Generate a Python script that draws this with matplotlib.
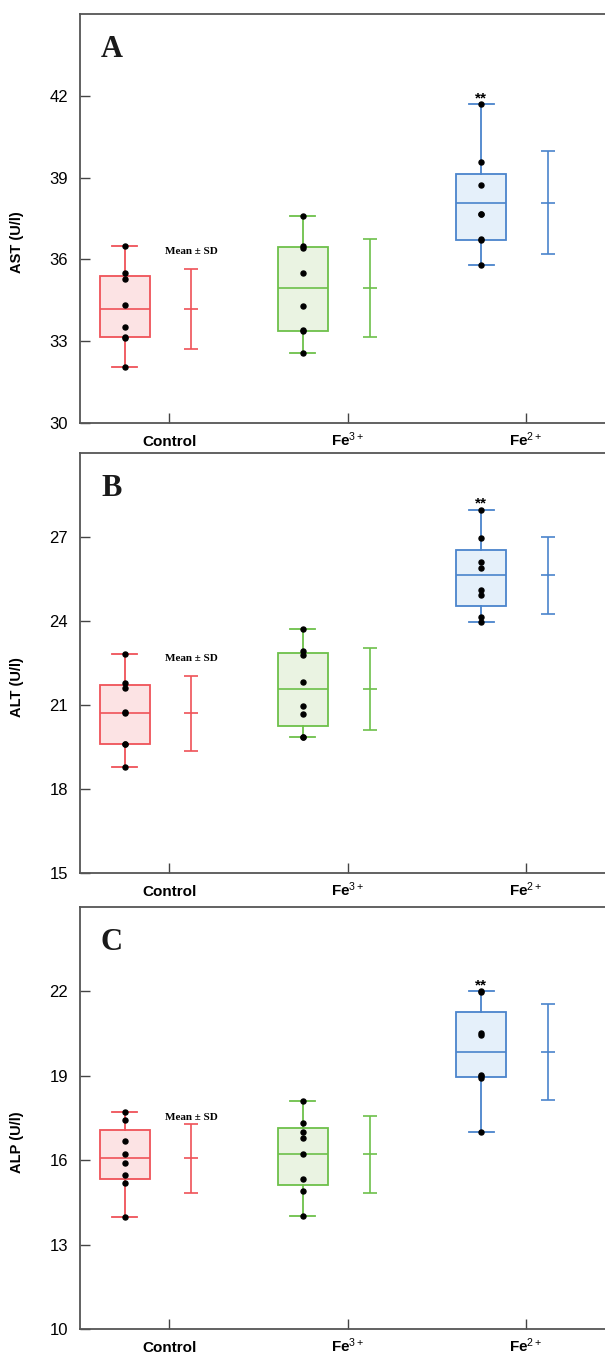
import numpy as np
import matplotlib
matplotlib.use('Agg')
from matplotlib import pyplot as plt
from matplotlib import cbook

plt.rcParams['font.family'] = ['Liberation Sans', 'DejaVu Sans']
plt.rcParams['mathtext.fontset'] = 'custom'
plt.rcParams['mathtext.rm'] = 'Liberation Sans'
plt.rcParams['mathtext.it'] = 'Liberation Sans:italic'
plt.rcParams['mathtext.bf'] = 'Liberation Sans:bold'

# groups and panels
groups = ['Control', 'Fe$^{3+}$', 'Fe$^{2+}$']
panel_letters = ['A', 'B', 'C']
ylabels = ['AST (U/l)', 'ALT (U/l)', 'ALP (U/l)']
ylims = [(30, 45), (15, 30), (10, 25)]
yticks = [[30, 33, 36, 39, 42], [15, 18, 21, 24, 27], [10, 13, 16, 19, 22]]

# individual values (n = 8 per group)
ast_control = [36.48, 35.50, 35.29, 34.33, 33.53, 33.16, 33.12, 32.07]
ast_fe3 = [37.59, 36.48, 36.42, 35.50, 34.30, 33.40, 33.36, 32.55]
ast_fe2 = [41.69, 39.58, 38.72, 37.68, 37.66, 36.75, 36.70, 35.79]

alt_control = [22.83, 21.78, 21.62, 20.74, 20.72, 19.60, 19.60, 18.80]
alt_fe3 = [23.73, 22.92, 22.77, 21.83, 20.95, 20.67, 19.86, 19.86]
alt_fe2 = [27.98, 26.96, 26.11, 25.88, 25.11, 24.93, 24.13, 23.98]

alp_control = [17.71, 17.43, 16.69, 16.21, 15.89, 15.48, 15.19, 13.98]
alp_fe3 = [18.09, 17.31, 17.01, 16.79, 16.21, 15.33, 14.91, 14.03]
alp_fe2 = [22.00, 21.98, 20.52, 20.44, 19.02, 19.00, 18.93, 17.00]

panels = [
    [ast_control, ast_fe3, ast_fe2],
    [alt_control, alt_fe3, alt_fe2],
    [alp_control, alp_fe3, alp_fe2],
]

edge_colors = ['#EF5258', '#6DC04A', '#4A84CC']
face_colors = ['#FCE3E4', '#EAF3E2', '#E5F0FA']

# axes placement in pixels (top, bottom) of a 605 x 1354 figure
W, H = 605, 1354
frames = [(14, 423), (453, 873), (907, 1329)]
left_px, width_px = 80, 535

fig = plt.figure(figsize=(W / 100, H / 100), dpi=100)

for p in range(3):
    top, bot = frames[p]
    ax = fig.add_axes([left_px / W, (H - bot) / H, width_px / W, (bot - top) / H])
    data = panels[p]
    pos = np.arange(3)

    # box: hinges, min/max whiskers, line at mean
    stats = []
    for vals in data:
        s = cbook.boxplot_stats(np.array(vals), whis=(0, 100))[0]
        s['q1'] = np.percentile(vals, 25, method='midpoint')
        s['q3'] = np.percentile(vals, 75, method='midpoint')
        s['med'] = np.mean(vals)
        stats.append(s)

    bp = ax.bxp(stats, positions=pos - 0.25, widths=0.28, capwidths=0.14,
                patch_artist=True, showfliers=False)
    for i in range(3):
        bp['boxes'][i].set(facecolor=face_colors[i], edgecolor=edge_colors[i], linewidth=1.3)
        bp['medians'][i].set(color=edge_colors[i], linewidth=1.2)
        for k in (2 * i, 2 * i + 1):
            bp['whiskers'][k].set(color=edge_colors[i], linewidth=1.3)
            bp['caps'][k].set(color=edge_colors[i], linewidth=1.3)

    # raw points
    for i, vals in enumerate(data):
        ax.plot([pos[i] - 0.25] * len(vals), vals, 'o', color='black', ms=3.6, zorder=5)

    # mean +- SD
    for i, vals in enumerate(data):
        m = np.mean(vals)
        sd = np.std(vals, ddof=1)
        ax.errorbar(pos[i] + 0.125, m, yerr=sd, fmt='_', color=edge_colors[i],
                    ms=9.4, mew=1.2, elinewidth=1.2, capsize=4.7, capthick=1.2)

    ax.annotate('Mean ± SD', xy=(pos[0] + 0.125, max(data[0])), xytext=(0, -5),
                textcoords='offset pixels', ha='center', va='center',
                family='Liberation Serif', fontweight='bold', fontsize=8)

    ax.annotate('**', xy=(pos[2] - 0.25, max(data[2])), xytext=(0, 2),
                textcoords='offset pixels', ha='center', va='baseline',
                fontweight='bold', fontsize=11)

    ax.annotate(panel_letters[p], xy=(0, 1), xycoords='axes fraction',
                xytext=(21, -43), textcoords='offset pixels', ha='left', va='baseline',
                family='Liberation Serif', fontweight='bold', fontsize=22, color='#1a1a1a')

    ax.set_xlim(-0.5, 2.5)
    ax.set_ylim(*ylims[p])
    ax.set_xticks(pos)
    ax.set_xticklabels(groups, fontweight='bold', fontsize=11, va='baseline')
    ax.set_yticks(yticks[p])
    ax.tick_params(axis='y', direction='in', length=7, width=1, labelsize=12, pad=8.5,
                   color='#444444')
    ax.tick_params(axis='x', direction='in', length=7, width=1, pad=16.5, color='#444444')
    for side in ['left', 'bottom', 'top']:
        ax.spines[side].set_color('#555555')
        ax.spines[side].set_linewidth(1.3)
    ax.spines['right'].set_visible(False)

    ax.set_ylabel(ylabels[p], fontweight='bold', fontsize=10.5)
    ax.yaxis.set_label_coords(-0.105, 0.443)

fig.savefig('out.png', dpi=100)
